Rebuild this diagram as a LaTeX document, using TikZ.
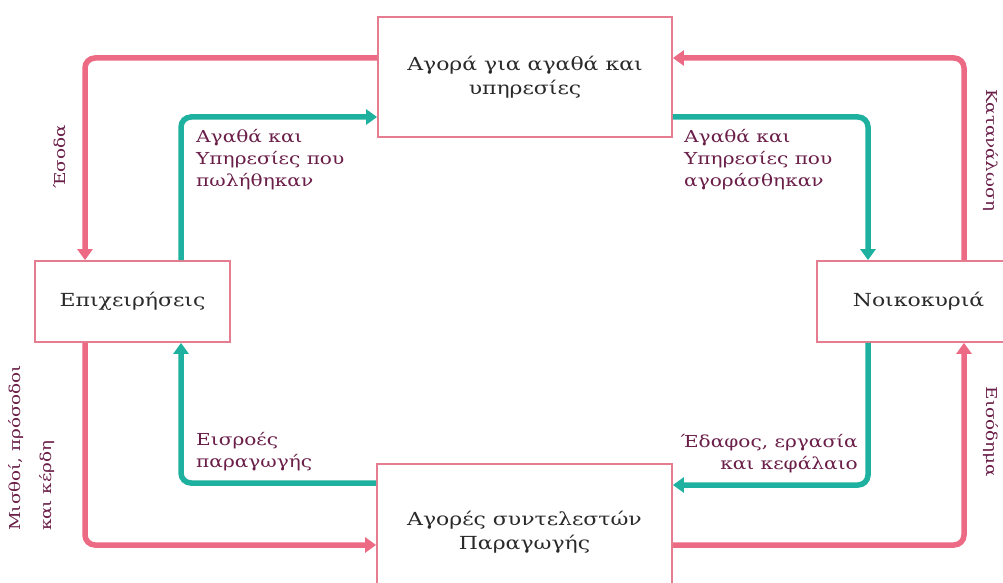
\documentclass[tikz,border=0pt]{standalone}
\usepackage{fontspec}
\setmainfont[FakeStretch=1.22]{DejaVu Serif}
\usetikzlibrary{arrows.meta}
\definecolor{pk}{HTML}{EC6A84}
\definecolor{tl}{HTML}{1FB19F}
\definecolor{bx}{HTML}{E57C90}
\definecolor{lab}{HTML}{6A1E48}
\definecolor{txt}{HTML}{2A2A2A}
\begin{document}
\begin{tikzpicture}[x=1pt,y=-1pt,
  box/.style={draw=bx,line width=1.8pt,fill=white,inner sep=0pt,align=center,
    font=\fontsize{18}{24}\selectfont,text=txt},
  pkline/.style={draw=pk,line width=5.5pt,rounded corners=10pt,
    -{Triangle[length=11pt,width=15pt]}},
  tlline/.style={draw=tl,line width=5.5pt,rounded corners=10pt,
    -{Triangle[length=11pt,width=15pt]}},
  lbl/.style={text=lab,font=\fontsize{16.5}{22}\selectfont,inner sep=0pt},
  rlbl/.style={lbl,font=\fontsize{15}{31}\selectfont}]
\clip (0,0) rectangle (1003,583);
\fill[white] (0,0) rectangle (1003,583);
% boxes
\node[box,minimum width=294pt,minimum height=120pt] (top) at (525,77)
  {Αγορά για αγαθά και\\υπηρεσίες};
\node[box,minimum width=195pt,minimum height=81pt] (left) at (132.5,301.5)
  {Επιχειρήσεις};
\node[box,minimum width=203pt,minimum height=81pt] (right) at (918.5,301.5)
  {Νοικοκυριά};
\node[box,minimum width=295pt,minimum height=136pt] (bottom) at (524.5,532)
  {Αγορές συντελεστών\\Παραγωγής};
% pink flows
\draw[pkline] (top.west |- 0,58) -| (left.north -| 85,0);
\draw[pkline] (right.north -| 964,0) |- (top.east |- 0,58);
\draw[pkline] (bottom.east |- 0,545) -| (right.south -| 964,0);
\draw[pkline] (left.south -| 85,0) |- (bottom.west |- 0,545);
% teal flows
\draw[tlline] (left.north -| 181,0) |- (top.west |- 0,117);
\draw[tlline] (top.east |- 0,117) -| (right.north -| 868,0);
\draw[tlline] (right.south -| 868,0) |- (bottom.east |- 0,485);
\draw[tlline] (bottom.west |- 0,483) -| (left.south -| 181,0);
% labels
\node[lbl,align=left,anchor=north west] (l1) at (196,129)
  {Αγαθά και\\Υπηρεσίες που\\πωλήθηκαν};
\node[lbl,align=left,anchor=north west] (l2) at (684,129)
  {Αγαθά και\\Υπηρεσίες που\\αγοράσθηκαν};
\node[lbl,align=left,anchor=north west] (l3) at (196,432)
  {Εισροές\\παραγωγής};
\node[lbl,align=right,anchor=north east] (l4) at (858,434)
  {Έδαφος, εργασία\\και κεφάλαιο};
\node[rlbl,rotate=90] (l5) at (60,157) {Έσοδα};
\node[rlbl,rotate=-90] (l6) at (991,150) {Κατανάλωση};
\node[rlbl,rotate=-90] (l7) at (991,432) {Εισόδημα};
\node[rlbl,rotate=90,align=left,anchor=west] (l8) at (32,531)
  {Μισθοί, πρόσοδοι\\και κέρδη};
\end{tikzpicture}
\end{document}
